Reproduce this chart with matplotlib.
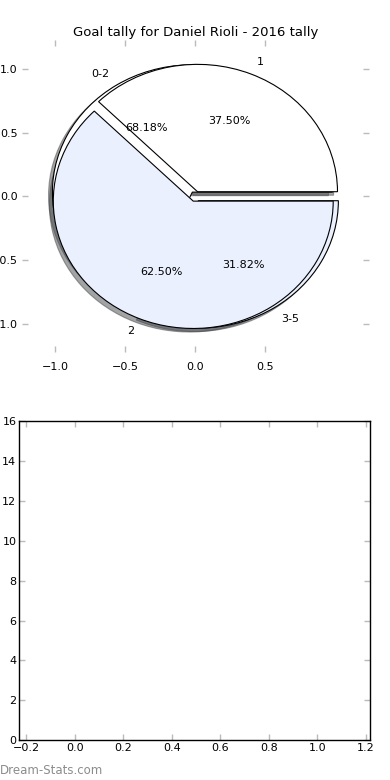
import matplotlib
matplotlib.use('Agg')
import matplotlib.pyplot as plt

# pie data
tally_labels = ['1', '2']
tally_values = [3, 5]
range_labels = ['0-2', '3-5']
range_values = [15, 7]

pie_colors = ['white', '#eaf0fd']
x_ticks = [-1.0, -0.5, 0.0, 0.5]
y_ticks = [-1.0, -0.5, 0.0, 0.5, 1.0]
bottom_xticks = [-0.2, 0.0, 0.2, 0.4, 0.6, 0.8, 1.0, 1.2]
bottom_yticks = [0, 2, 4, 6, 8, 10, 12, 14, 16]


def style_ticks(ax, xpad, ypad):
    ax.tick_params(direction='in', length=4, color='#bbbbbb', width=1,
                   labelsize=8, top=True, right=True)
    ax.tick_params(axis='x', pad=xpad)
    ax.tick_params(axis='y', pad=ypad)


def draw_pies(ax):
    wprops = dict(edgecolor='black', linewidth=0.8)
    ax.pie(range_values, labels=range_labels, colors=pie_colors,
           autopct='%.2f%%', explode=[0.04, 0.04], shadow=True,
           frame=True, wedgeprops=wprops,
           textprops=dict(fontsize=8))
    ax.pie(tally_values, labels=tally_labels, colors=pie_colors,
           autopct='%.2f%%', explode=[0.04, 0.04], shadow=True,
           frame=True, wedgeprops=wprops,
           textprops=dict(fontsize=8))


def set_top_axes(ax):
    ax.set_aspect('auto')
    ax.set_xlim(-1.24, 1.24)
    ax.set_ylim(-1.22, 1.23)
    ax.set_xticks(x_ticks)
    ax.set_yticks(y_ticks)
    for s in ax.spines.values():
        s.set_visible(False)
    style_ticks(ax, 7, 3)
    ax.set_title('Goal tally for Daniel Rioli - 2016 tally', fontsize=9.5, pad=3)


def set_bottom_axes(ax):
    ax.set_xlim(-0.23, 1.217)
    ax.set_ylim(0, 16)
    ax.set_xticks(bottom_xticks)
    ax.set_yticks(bottom_yticks)
    style_ticks(ax, 2, 2)
    for s in ax.spines.values():
        s.set_linewidth(1.0)


def main():
    fig = plt.figure(figsize=(3.9, 7.8), dpi=100)
    ax_top = fig.add_axes([0.056, 0.549, 0.890, 0.400])
    ax_bot = fig.add_axes([0.049, 0.051, 0.900, 0.409])
    draw_pies(ax_top)
    set_top_axes(ax_top)
    set_bottom_axes(ax_bot)
    fig.text(0.0, 0.004, 'Dream-Stats.com', color='#8c8c8c', fontsize=8.5,
             ha='left', va='bottom')
    fig.savefig('out.png', dpi=100)


if __name__ == '__main__':
    main()
